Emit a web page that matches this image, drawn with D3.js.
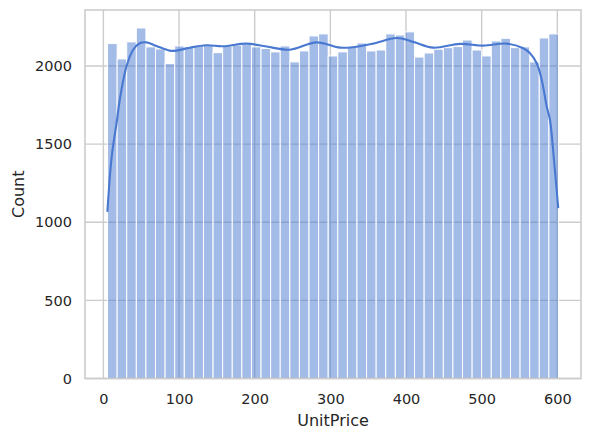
<!DOCTYPE html>
<html>
<head>
<meta charset="utf-8">
<script src="https://cdn.jsdelivr.net/npm/d3@7"></script>
<style>
  body { margin: 0; background: #fff; }
  text { font-family: "DejaVu Sans", sans-serif; fill: #262626; }
</style>
</head>
<body>
<div id="container"></div>
<script>
/* histogram counts, 47 equal bins between priceMin and priceMax */
var priceMin = 5.5,
    priceMax = 601.5;
var counts = [2143, 2045, 2154, 2243, 2122, 2109, 2015, 2128, 2124, 2130,
              2130, 2085, 2128, 2132, 2139, 2122, 2112, 2090, 2128, 2026,
              2096, 2192, 2205, 2064, 2090, 2120, 2147, 2096, 2102, 2205,
              2198, 2218, 2057, 2083, 2107, 2117, 2124, 2166, 2102, 2064,
              2160, 2177, 2117, 2122, 2026, 2179, 2205];

/* kde curve (price, scaled density in counts) */
var kdePrice = [5.3, 11, 18, 21.6, 30.4, 39.2, 48, 56.9, 70.1, 87.7, 96.6,
                114.2, 136.2, 158.2, 189.2, 215.6, 246.4, 281.7, 312.6, 330.2,
                356.6, 387.6, 409.5, 436, 471.3, 502.1, 533.1, 555, 563.9,
                572.8, 579.4, 586, 590.3, 595.6, 601.2];
var kdeCount = [1066, 1420, 1654, 1782, 1995, 2102, 2145, 2151, 2128, 2098, 2098,
                2117, 2132, 2126, 2143, 2124, 2104, 2151, 2117, 2120,
                2143, 2179, 2154, 2117, 2141, 2130, 2143, 2113, 2081,
                2017, 1910, 1740, 1654, 1398, 1090];

var xTicks = [0, 100, 200, 300, 400, 500, 600];
var yTicks = [0, 500, 1000, 1500, 2000];

/* setup the dimensions */
var W = 591, H = 441;
var margin = { top: 10, right: 10, bottom: 62.5, left: 85 },
    width = W - margin.left - margin.right,
    height = H - margin.top - margin.bottom;

var blue = "#4878d0";

var x = d3.scaleLinear().domain([-24.3, 631.3]).range([0, width]);
var y = d3.scaleLinear().domain([0, 2358]).range([height, 0]);

var svg = d3.select("#container")
            .append("svg")
            .attr("width", W)
            .attr("height", H);

var g = svg.append("g")
           .attr("transform", "translate(" + margin.left + "," + margin.top + ")");

/* grid */
g.append("g").selectAll("line")
  .data(xTicks).enter().append("line")
    .attr("x1", function(d) { return x(d); })
    .attr("x2", function(d) { return x(d); })
    .attr("y1", 0).attr("y2", height)
    .attr("stroke", "#cccccc").attr("stroke-width", 1.4);

g.append("g").selectAll("line")
  .data(yTicks).enter().append("line")
    .attr("x1", 0).attr("x2", width)
    .attr("y1", function(d) { return y(d); })
    .attr("y2", function(d) { return y(d); })
    .attr("stroke", "#cccccc").attr("stroke-width", 1.4);

/* bars */
var binW = (priceMax - priceMin) / counts.length;
g.append("g").selectAll("rect")
  .data(counts).enter().append("rect")
    .attr("x", function(d, i) { return x(priceMin + i * binW); })
    .attr("width", function(d, i) { return x(priceMin + (i + 1) * binW) - x(priceMin + i * binW); })
    .attr("y", function(d) { return y(d); })
    .attr("height", function(d) { return y(0) - y(d); })
    .attr("fill", blue)
    .attr("fill-opacity", 0.5)
    .attr("stroke", "#fff")
    .attr("stroke-width", 1);

/* kde line */
var line = d3.line()
  .x(function(d) { return x(d[0]); })
  .y(function(d) { return y(d[1]); })
  .curve(d3.curveCatmullRom.alpha(0.5));

g.append("path")
  .datum(d3.zip(kdePrice, kdeCount))
  .attr("d", line)
  .attr("fill", "none")
  .attr("stroke", blue)
  .attr("stroke-width", 2.1);

/* spines */
g.append("rect")
  .attr("x", 0).attr("y", 0)
  .attr("width", width).attr("height", height)
  .attr("fill", "none")
  .attr("stroke", "#cccccc")
  .attr("stroke-width", 1.6);

/* axes */
var xAxis = g.append("g")
  .attr("transform", "translate(0," + height + ")")
  .call(d3.axisBottom(x).tickValues(xTicks).tickSize(0).tickPadding(15));
var yAxis = g.append("g")
  .call(d3.axisLeft(y).tickValues(yTicks).tickFormat(d3.format("d")).tickSize(0).tickPadding(13));

[xAxis, yAxis].forEach(function(a) {
  a.select(".domain").remove();
  a.selectAll("text")
    .style("font-family", "DejaVu Sans, sans-serif")
    .style("font-size", "14.5px")
    .attr("fill", "#262626");
});

/* axis labels */
svg.append("text")
  .attr("x", margin.left + width / 2)
  .attr("y", 426)
  .attr("text-anchor", "middle")
  .style("font-size", "16px")
  .text("UnitPrice");

svg.append("text")
  .attr("transform", "translate(24," + (margin.top + height / 2) + ") rotate(-90)")
  .attr("text-anchor", "middle")
  .style("font-size", "16px")
  .text("Count");
</script>
</body>
</html>
